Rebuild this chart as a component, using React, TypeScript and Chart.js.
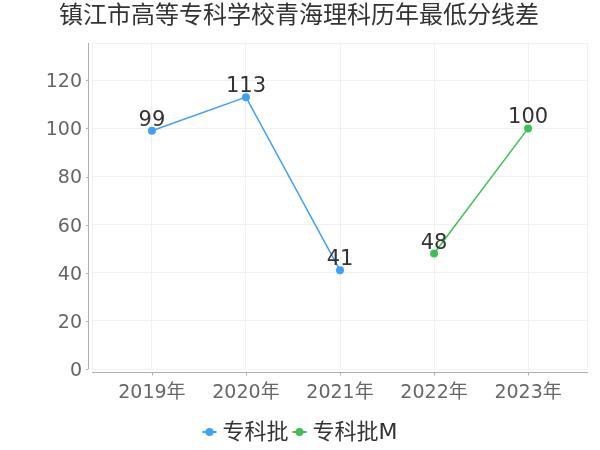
import { useEffect, useRef } from "react";
import { Chart, registerables } from "chart.js";
Chart.register(...registerables);

const title = "镇江市高等专科学校青海理科历年最低分线差";
const categories = ["2019年", "2020年", "2021年", "2022年", "2023年"];
const seriesNames = ["专科批", "专科批M"];
const zhuankePi: (number | null)[] = [99, 113, 41, null, null];
const zhuankePiM: (number | null)[] = [null, null, null, 48, 100];
const yTicks = [0, 20, 40, 60, 80, 100, 120];
const yMax = 135.5;
const colors = ["#3fa0f7", "#40bf55"];

const FONT = '"DejaVu Sans", "Noto Sans CJK SC", sans-serif';
const GRID = "#f1f1f1";
const AXIS = "#b0b0b0";

const toPoints = (arr: (number | null)[]) =>
  arr.map((v, i) => (v == null ? null : { x: i, y: v })).filter((p) => p !== null) as { x: number; y: number }[];

const decorPlugin = {
  id: "decor",
  beforeDatasetsDraw(chart: any) {
    const { ctx, chartArea: a } = chart;
    ctx.save();
    ctx.strokeStyle = GRID;
    ctx.lineWidth = 1;
    ctx.strokeRect(a.left + 0.5, a.top + 0.5, a.right - a.left - 1, a.bottom - a.top);
    ctx.restore();
  },
  afterDatasetsDraw(chart: any) {
    const { ctx } = chart;
    ctx.save();
    ctx.font = `21px ${FONT}`;
    ctx.fillStyle = "#333";
    ctx.textAlign = "center";
    ctx.textBaseline = "alphabetic";
    chart.data.datasets.forEach((ds: any, di: number) => {
      const meta = chart.getDatasetMeta(di);
      meta.data.forEach((el: any, i: number) => {
        ctx.fillText(String(ds.data[i].y), el.x, el.y - 5);
      });
    });
    ctx.restore();
  },
  afterDraw(chart: any) {
    const { ctx, chartArea: a, scales } = chart;
    ctx.save();
    // axis lines
    ctx.strokeStyle = AXIS;
    ctx.lineWidth = 1;
    ctx.beginPath();
    ctx.moveTo(a.left - 3.5, a.top);
    ctx.lineTo(a.left - 3.5, a.bottom);
    ctx.moveTo(a.left, a.bottom + 3.5);
    ctx.lineTo(a.right, a.bottom + 3.5);
    // tick marks
    scales.y.ticks.forEach((t: any) => {
      const y = Math.round(scales.y.getPixelForValue(t.value)) + 0.5;
      ctx.moveTo(a.left - 6, y);
      ctx.lineTo(a.left - 3.5, y);
    });
    scales.x.ticks.forEach((t: any) => {
      const x = Math.round(scales.x.getPixelForValue(t.value)) + 0.5;
      ctx.moveTo(x, a.bottom + 3.5);
      ctx.lineTo(x, a.bottom + 6.5);
    });
    ctx.stroke();

    // title
    ctx.font = `24px ${FONT}`;
    ctx.fillStyle = "#333";
    ctx.textAlign = "center";
    ctx.textBaseline = "middle";
    ctx.fillText(title, 299, 17);

    // legend
    ctx.font = `22px ${FONT}`;
    const markerW = 14;
    const gapText = 6;
    const gapItem = 4;
    const widths = seriesNames.map((n) => ctx.measureText(n).width);
    const total = widths.reduce((s, w) => s + markerW + gapText + w, 0) + gapItem * (seriesNames.length - 1);
    let x = 300 - total / 2;
    const ly = 432;
    seriesNames.forEach((n, i) => {
      ctx.strokeStyle = colors[i];
      ctx.lineWidth = 2;
      ctx.beginPath();
      ctx.moveTo(x, ly);
      ctx.lineTo(x + markerW, ly);
      ctx.stroke();
      ctx.fillStyle = colors[i];
      ctx.beginPath();
      ctx.arc(x + markerW / 2, ly, 4, 0, Math.PI * 2);
      ctx.fill();
      ctx.fillStyle = "#333";
      ctx.textAlign = "left";
      ctx.fillText(n, x + markerW + gapText, ly + 1);
      x += markerW + gapText + widths[i] + gapItem;
    });
    ctx.restore();
  },
};

export default function App() {
  const ref = useRef<HTMLCanvasElement>(null);
  useEffect(() => {
    document.body.style.margin = "0";
    const chart = new Chart(ref.current!, {
      type: "line",
      data: {
        datasets: [
          {
            label: seriesNames[0],
            data: toPoints(zhuankePi),
            borderColor: colors[0],
            backgroundColor: colors[0],
            borderWidth: 1.5,
            pointRadius: 4,
            pointBorderWidth: 0,
          },
          {
            label: seriesNames[1],
            data: toPoints(zhuankePiM),
            borderColor: colors[1],
            backgroundColor: colors[1],
            borderWidth: 1.5,
            pointRadius: 4,
            pointBorderWidth: 0,
          },
        ],
      },
      options: {
        animation: false,
        responsive: false,
        layout: { padding: { top: 43, right: 12, left: 0, bottom: 0 } },
        plugins: { legend: { display: false }, title: { display: false }, tooltip: { enabled: false } },
        scales: {
          x: {
            type: "linear",
            min: -0.637,
            max: 4.637,
            afterBuildTicks: (s: any) => {
              s.ticks = categories.map((_, i) => ({ value: i }));
            },
            afterFit: (s: any) => {
              s.height = 81;
            },
            ticks: {
              callback: (v: any) => categories[v] ?? "",
              font: { size: 19, family: FONT },
              color: "#666",
              padding: 13,
              autoSkip: false,
              maxRotation: 0,
            },
            grid: { color: GRID, drawTicks: false },
            border: { display: false },
          },
          y: {
            min: 0,
            max: yMax,
            afterBuildTicks: (s: any) => {
              s.ticks = yTicks.map((v) => ({ value: v }));
            },
            afterFit: (s: any) => {
              s.width = 92;
            },
            ticks: {
              font: { size: 19, family: FONT },
              color: "#666",
              padding: 10,
              labelOffset: 2,
            },
            grid: { color: GRID, drawTicks: false },
            border: { display: false },
          },
        },
      },
      plugins: [decorPlugin],
    });
    return () => chart.destroy();
  }, []);
  return (
    <div style={{ width: 600, height: 450 }}>
      <canvas ref={ref} width={600} height={450} />
    </div>
  );
}
